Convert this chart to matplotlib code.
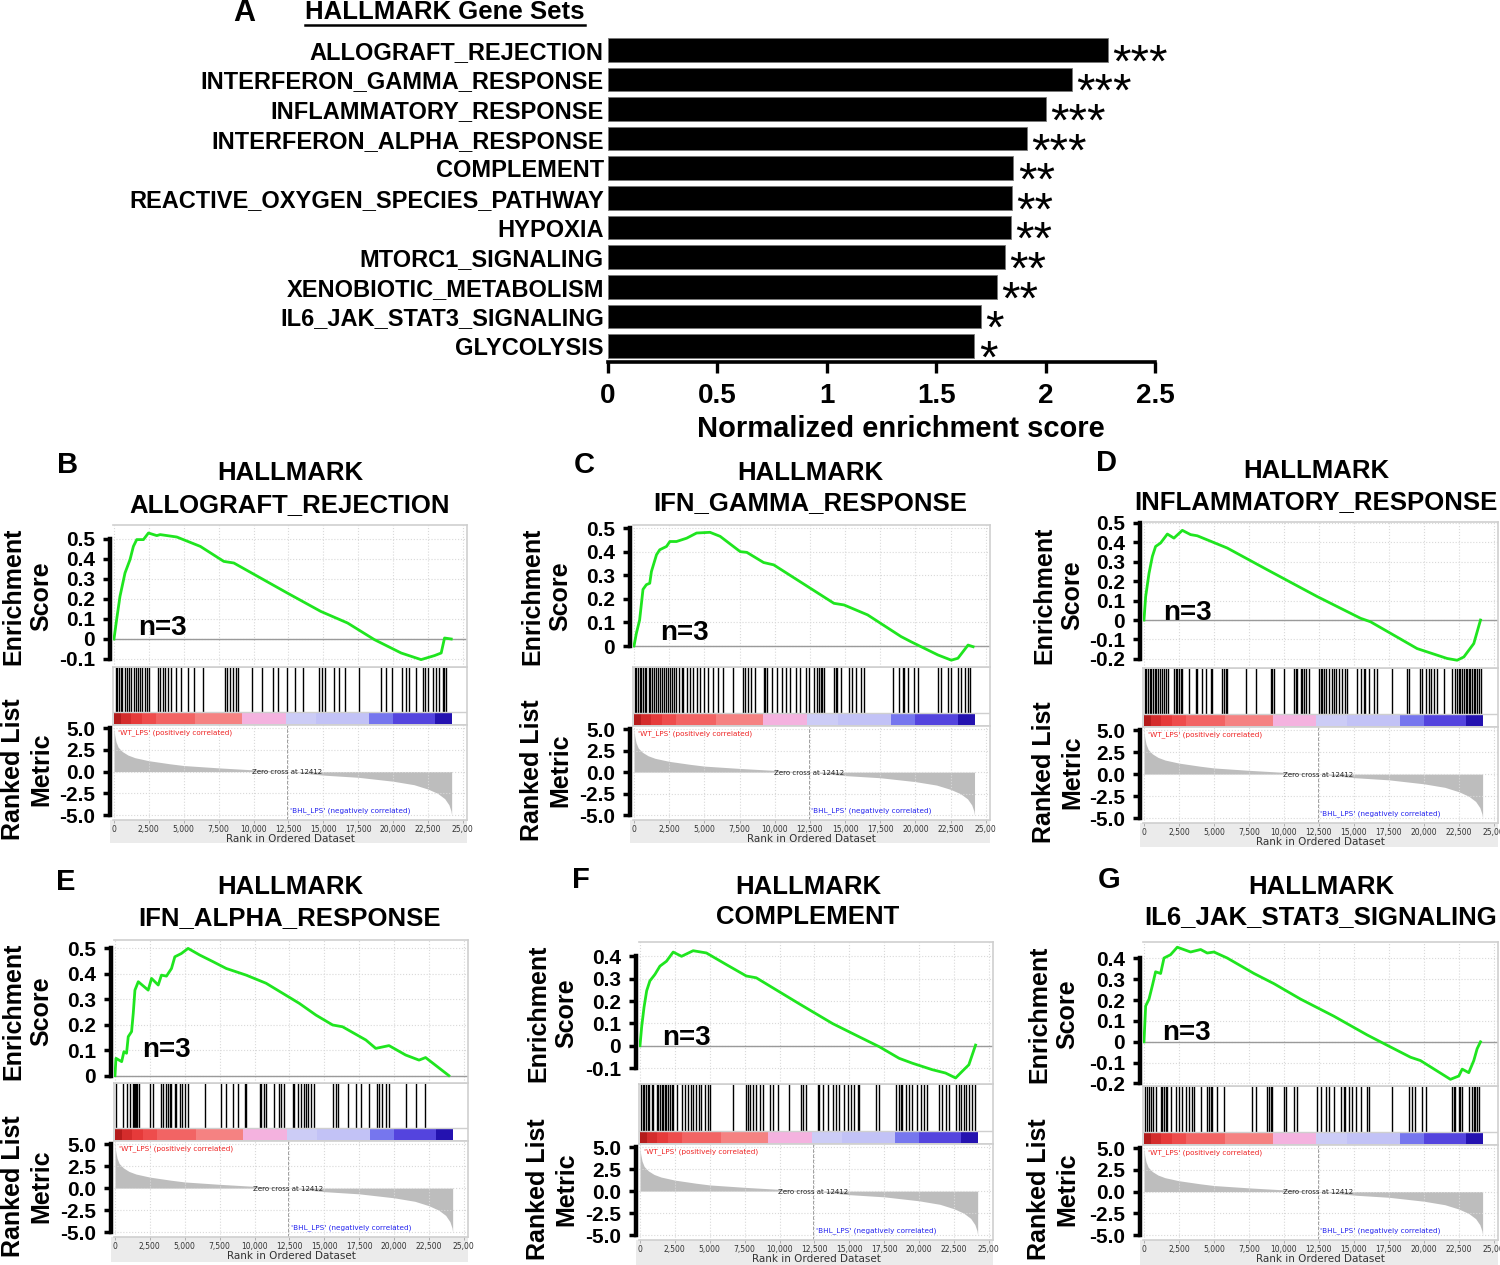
import matplotlib
matplotlib.use("Agg")
import matplotlib.pyplot as plt
from matplotlib.lines import Line2D

W, H = 1500, 1265
plt.rcParams["font.family"] = ["Liberation Sans", "DejaVu Sans"]

# ---- panel A: normalized enrichment scores ----
GENE_SETS = [
    "ALLOGRAFT_REJECTION", "INTERFERON_GAMMA_RESPONSE", "INFLAMMATORY_RESPONSE",
    "INTERFERON_ALPHA_RESPONSE", "COMPLEMENT", "REACTIVE_OXYGEN_SPECIES_PATHWAY",
    "HYPOXIA", "MTORC1_SIGNALING", "XENOBIOTIC_METABOLISM", "IL6_JAK_STAT3_SIGNALING",
    "GLYCOLYSIS",
]
NES = [2.285, 2.12, 2.00, 1.915, 1.853, 1.846, 1.843, 1.813, 1.778, 1.705, 1.675]
STARS = ["***", "***", "***", "***", "**", "**", "**", "**", "**", "*", "*"]

# ---- shared ranked list (rank in thousands) ----
METRIC_RANK = [0, 0.05, 0.15, 0.3, 0.6, 1.0, 1.5, 2.5, 4.0, 5.0, 7.5, 10.0, 12.412,
               15.0, 17.5, 20.0, 21.5, 22.5, 23.2, 23.7, 24.0, 24.15, 24.2]
METRIC_VALUE = [5.0, 4.2, 3.4, 2.8, 2.3, 1.9, 1.6, 1.25, 0.9, 0.7, 0.43, 0.2, 0.0,
                -0.4, -0.65, -1.1, -1.5, -2.0, -2.5, -3.1, -3.8, -4.5, -5.0]
BAND_EDGES = [0, 0.5, 1.2, 2.0, 3.0, 5.8, 9.2, 12.3, 14.5, 18.3, 20.0, 23.0, 24.2]
BAND_COLORS = ["#b41c1c", "#d42c2c", "#e63a3a", "#ee4c4c", "#f26464", "#f58282",
               "#f4b2df", "#ccccf6", "#c2c2f6", "#7676ee", "#5444de", "#2412b0"]
ZERO_CROSS = 12.412

# ---- running enrichment scores and hit positions (rank in thousands) ----
B_RANK = [0, 0.19, 0.43, 0.79, 1.15, 1.39, 1.63, 2.11, 2.47, 3.07, 3.31, 4.5, 6.19, 7.87,
          8.59, 12.42, 14.82, 16.74, 18.66, 20.58, 22.01, 22.97, 23.45, 23.69, 24.17]
B_ES = [0, 0.097, 0.213, 0.33, 0.397, 0.463, 0.497, 0.497, 0.53, 0.517, 0.522, 0.51, 0.463,
        0.388, 0.38, 0.23, 0.138, 0.08, -0.003, -0.07, -0.103, -0.083, -0.07, 0.005, 0.0]
B_HITS = [0.12, 0.24, 0.36, 0.48, 0.6, 0.77, 0.91, 1.08, 1.25, 1.44, 1.56, 1.73, 1.88, 2.04,
          2.21, 2.36, 2.52, 3.12, 3.32, 3.49, 3.65, 3.85, 4.09, 4.45, 4.81, 5.34, 5.77, 6.37,
          7.98, 8.13, 8.29, 8.53, 8.77, 8.89, 9.9, 10.58, 11.42, 11.78, 12.38, 12.98, 13.58,
          14.66, 14.9, 15.14, 15.75, 16.11, 16.59, 17.55, 19.11, 19.47, 19.95, 20.67, 20.91,
          21.15, 21.63, 22.16, 22.31, 22.48, 22.84, 23.08, 23.32, 23.56, 23.68, 23.8]

C_RANK = [0, 0.17, 0.4, 0.64, 0.88, 1.12, 1.24, 1.6, 1.83, 2.31, 2.55, 3.02, 3.74, 4.45, 5.4,
          6.12, 7.55, 8.02, 9.21, 9.93, 14.21, 14.93, 16.6, 18.98, 19.69, 21.6, 22.55, 23.02,
          23.74, 24.1]
C_ES = [0, 0.054, 0.11, 0.24, 0.26, 0.266, 0.316, 0.387, 0.408, 0.422, 0.443, 0.443, 0.457,
        0.479, 0.482, 0.465, 0.40, 0.397, 0.354, 0.344, 0.181, 0.174, 0.132, 0.04, 0.018,
        -0.038, -0.06, -0.052, 0.004, -0.003]
C_HITS = [0.05, 0.17, 0.29, 0.4, 0.52, 0.64, 0.76, 0.88, 1.05, 1.17, 1.31, 1.43, 1.55, 1.71,
          1.83, 2.0, 2.12, 2.26, 2.43, 2.55, 2.71, 2.86, 3.02, 3.19, 3.38, 3.5, 3.74, 3.98,
          4.21, 4.45, 4.69, 4.98, 5.29, 5.64, 6.0, 6.36, 7.07, 7.74, 7.9, 8.07, 8.31, 8.62,
          9.21, 9.33, 9.45, 9.81, 10.17, 10.52, 10.83, 11.12, 11.48, 11.83, 12.19, 12.43,
          12.79, 13.02, 13.14, 13.26, 13.38, 13.5, 14.21, 14.33, 14.45, 14.69, 15.29, 15.52,
          15.76, 16.12, 16.36, 18.38, 18.86, 19.1, 19.21, 19.45, 19.93, 20.17, 21.6, 21.83,
          22.31, 22.55, 23.02, 23.26, 23.5, 23.74, 23.86]

D_RANK = [0, 0.12, 0.36, 0.6, 0.83, 1.19, 1.67, 2.14, 2.74, 3.33, 3.81, 5.95, 8.81, 12.38,
          15.48, 16.19, 19.52, 21.67, 22.38, 22.86, 23.57, 24.05]
D_ES = [0, 0.121, 0.241, 0.328, 0.379, 0.397, 0.443, 0.422, 0.462, 0.44, 0.434, 0.371, 0.259,
        0.121, 0.009, -0.009, -0.147, -0.198, -0.207, -0.19, -0.121, 0.0]
D_HITS = [0.05, 0.17, 0.29, 0.4, 0.52, 0.64, 0.76, 0.88, 1.0, 1.14, 1.26, 1.43, 1.6, 1.74,
          2.14, 2.26, 2.38, 2.5, 2.62, 2.74, 3.21, 3.69, 3.81, 4.17, 4.4, 4.76, 4.88, 5.6,
          5.71, 5.83, 5.95, 7.26, 7.98, 9.05, 9.17, 9.29, 10.0, 10.71, 10.83, 10.95, 11.19,
          11.31, 11.43, 11.55, 11.79, 12.5, 12.62, 12.74, 12.86, 12.98, 13.21, 13.45, 13.57,
          13.69, 13.93, 14.17, 14.4, 14.52, 15.24, 15.48, 15.71, 15.83, 16.07, 16.43, 16.67,
          17.74, 18.81, 18.93, 19.76, 19.88, 20.12, 20.36, 20.48, 20.71, 20.95, 21.43, 22.02,
          22.26, 22.38, 22.5, 22.62, 22.74, 22.86, 22.98, 23.1, 23.21, 23.33, 23.45, 23.57,
          23.69, 23.81, 23.93, 24.05]

E_RANK = [0, 0.07, 0.48, 0.64, 0.83, 0.95, 1.19, 1.31, 1.43, 1.67, 2.38, 2.62, 3.1, 3.33,
          3.69, 4.05, 4.29, 4.76, 5.24, 6.07, 7.02, 7.98, 9.4, 10.83, 13.21, 14.4, 15.6,
          16.31, 17.98, 18.69, 19.64, 20.83, 21.79, 22.26, 23.93]
E_ES = [0, 0.068, 0.055, 0.094, 0.088, 0.153, 0.173, 0.245, 0.336, 0.369, 0.336, 0.382,
        0.356, 0.395, 0.391, 0.421, 0.467, 0.48, 0.5, 0.474, 0.448, 0.421, 0.395, 0.363,
        0.284, 0.238, 0.199, 0.192, 0.14, 0.107, 0.118, 0.081, 0.061, 0.071, 0.0]
E_HITS = [0.07, 0.6, 0.83, 1.07, 1.26, 1.36, 1.43, 1.5, 1.6, 1.74, 2.5, 2.69, 3.33, 3.45,
          3.69, 3.81, 3.93, 4.05, 4.29, 4.4, 4.64, 4.83, 5.0, 5.24, 6.43, 7.62, 7.98, 8.45,
          8.81, 9.29, 9.4, 10.36, 10.48, 10.71, 10.83, 11.43, 11.79, 11.9, 12.14, 12.74,
          12.86, 13.1, 13.33, 13.57, 13.69, 13.81, 14.05, 14.29, 15.6, 15.83, 15.95, 16.67,
          17.26, 17.62, 18.21, 18.81, 18.93, 19.17, 19.4, 19.64, 20.83, 21.55, 22.21]

F_RANK = [0, 0.12, 0.29, 0.48, 0.71, 1.07, 1.43, 1.9, 2.38, 2.98, 3.81, 4.76, 6.19, 7.62,
          8.33, 11.43, 13.81, 15.71, 17.14, 18.57, 19.52, 20.95, 21.9, 22.62, 23.21, 23.57,
          24.05]
F_ES = [0, 0.084, 0.172, 0.246, 0.29, 0.319, 0.356, 0.378, 0.419, 0.4, 0.425, 0.415, 0.363,
        0.312, 0.304, 0.187, 0.099, 0.04, -0.004, -0.056, -0.078, -0.107, -0.122, -0.144,
        -0.107, -0.085, 0.003]
F_HITS = [0.05, 0.19, 0.31, 0.43, 0.55, 0.67, 0.83, 0.95, 1.19, 1.31, 1.43, 1.55, 1.67, 1.79,
          1.9, 2.02, 2.14, 2.26, 2.38, 2.62, 2.98, 3.21, 3.45, 3.69, 3.81, 4.05, 4.24, 4.4,
          4.64, 4.88, 5.05, 6.67, 7.62, 7.74, 7.9, 8.1, 8.33, 8.57, 8.81, 9.29, 9.52, 9.88,
          10.71, 11.55, 11.67, 11.9, 12.74, 12.86, 13.1, 13.45, 13.81, 14.05, 14.29, 14.64,
          14.88, 15.12, 15.36, 15.6, 15.71, 16.9, 17.14, 18.33, 18.57, 18.69, 18.81, 19.05,
          19.29, 19.52, 19.88, 20.12, 20.36, 20.6, 21.43, 21.67, 21.9, 22.14, 22.62, 22.86,
          22.98, 23.21, 23.33, 23.57, 23.81, 24.0]

G_RANK = [0, 0.12, 0.36, 0.6, 0.83, 1.19, 1.43, 1.9, 2.38, 3.33, 4.05, 4.52, 5.0, 5.95,
          7.86, 9.29, 11.19, 13.57, 15.95, 16.9, 19.05, 19.76, 21.9, 22.5, 22.74, 23.21,
          23.57, 23.81, 24.05]
G_ES = [0, 0.172, 0.205, 0.27, 0.336, 0.328, 0.402, 0.418, 0.454, 0.431, 0.443, 0.426,
        0.431, 0.402, 0.328, 0.279, 0.205, 0.123, 0.033, 0.0, -0.074, -0.09, -0.18, -0.164,
        -0.131, -0.148, -0.09, -0.033, 0.0]
G_HITS = [0.07, 0.24, 0.36, 0.52, 0.67, 0.83, 1.19, 1.31, 1.43, 1.55, 1.67, 1.9, 2.26, 2.5,
          2.74, 2.98, 3.21, 3.45, 3.57, 4.05, 4.52, 4.64, 4.76, 4.88, 5.24, 5.71, 7.74, 7.98,
          8.81, 8.93, 9.05, 9.17, 10.0, 10.12, 10.71, 10.95, 12.38, 12.62, 12.98, 13.21,
          13.57, 14.05, 14.29, 14.4, 14.64, 14.88, 15.12, 15.48, 15.95, 16.07, 17.74, 18.93,
          19.17, 19.4, 19.88, 20.12, 22.02, 22.14, 22.26, 22.5, 22.62, 22.74, 23.21, 23.45,
          23.57, 23.69, 23.81, 23.93]

ES_TICKS_B = [-0.1, 0, 0.1, 0.2, 0.3, 0.4, 0.5]
ES_TICKS_C = [0, 0.1, 0.2, 0.3, 0.4, 0.5]
ES_TICKS_D = [-0.2, -0.1, 0, 0.1, 0.2, 0.3, 0.4, 0.5]
ES_TICKS_F = [-0.1, 0, 0.1, 0.2, 0.3, 0.4]
ES_TICKS_G = [-0.2, -0.1, 0, 0.1, 0.2, 0.3, 0.4]

# layout of each GSEA panel, in pixels of the 1500x1265 figure
PANELS = [
    dict(letter="B", title="ALLOGRAFT_REJECTION", rank=B_RANK, es=B_ES, hits=B_HITS,
         ticks=ES_TICKS_B, ylim=(-0.14, 0.57), x0=113, x1=467,
         ys=(525, 667, 725, 820, 843), letter_xy=(57, 465), title_xy=(290, 473, 505),
         ylab_x=27, n3=(138, 628)),
    dict(letter="C", title="IFN_GAMMA_RESPONSE", rank=C_RANK, es=C_ES, hits=C_HITS,
         ticks=ES_TICKS_C, ylim=(-0.089, 0.513), x0=633, x1=990,
         ys=(525, 667, 726, 820, 843), letter_xy=(574, 465), title_xy=(810, 473, 503),
         ylab_x=546, n3=(660, 633)),
    dict(letter="D", title="INFLAMMATORY_RESPONSE", rank=D_RANK, es=D_ES, hits=D_HITS,
         ticks=ES_TICKS_D, ylim=(-0.247, 0.505), x0=1143, x1=1498,
         ys=(522, 668, 727, 823, 847), letter_xy=(1096, 463), title_xy=(1316, 471, 502),
         ylab_x=1058, n3=(1163, 613)),
    dict(letter="E", title="IFN_ALPHA_RESPONSE", rank=E_RANK, es=E_ES, hits=E_HITS,
         ticks=ES_TICKS_C, ylim=(-0.029, 0.533), x0=114, x1=468,
         ys=(940, 1083, 1141, 1237, 1262), letter_xy=(56, 882), title_xy=(290, 887, 918),
         ylab_x=27, n3=(142, 1050)),
    dict(letter="F", title="COMPLEMENT", rank=F_RANK, es=F_ES, hits=F_HITS,
         ticks=ES_TICKS_F, ylim=(-0.171, 0.464), x0=639, x1=993,
         ys=(942, 1084, 1144, 1240, 1265), letter_xy=(572, 880), title_xy=(808, 887, 917),
         ylab_x=552, n3=(662, 1038)),
    dict(letter="G", title="IL6_JAK_STAT3_SIGNALING", rank=G_RANK, es=G_ES, hits=G_HITS,
         ticks=ES_TICKS_G, ylim=(-0.212, 0.479), x0=1143, x1=1498,
         ys=(942, 1086, 1145, 1240, 1265), letter_xy=(1098, 880), title_xy=(1321, 887, 917),
         ylab_x=1053, n3=(1162, 1033)),
]

GREEN = "#1fe51f"
FRAME = "#cfcfcf"
GRID = "#d9d9d9"
XMAX = 25.3
XTICKS = [0, 2.5, 5, 7.5, 10, 12.5, 15, 17.5, 20, 22.5, 25]
XTICKLABELS = ["0", "2,500", "5,000", "7,500", "10,000", "12,500", "15,000", "17,500",
               "20,000", "22,500", "25,00"]


def rect(x0, y0, x1, y1):
    return [x0 / W, 1 - y1 / H, (x1 - x0) / W, (y1 - y0) / H]


def ftext(fig, x, y, s, **kw):
    fig.text(x / W, 1 - y / H, s, **kw)


def bold_spine(ax, lo, hi):
    for side in ["top", "right", "bottom"]:
        ax.spines[side].set_color(FRAME)
        ax.spines[side].set_linewidth(1.2)
    ax.spines["left"].set_linewidth(3.2)
    ax.spines["left"].set_color("black")
    ax.spines["left"].set_bounds(lo, hi)
    ax.spines["left"].set_position(("outward", 2))
    ax.tick_params(axis="y", length=5, width=2.5, labelsize=15, pad=6)
    for lab in ax.get_yticklabels():
        lab.set_fontweight("bold")


def draw_gsea(fig, p):
    x0, x1 = p["x0"], p["x1"]
    es_top, es_bot, mid_bot, met_bot, strip_bot = p["ys"]

    strip = fig.add_axes(rect(x0 - 3, met_bot, x1, strip_bot), zorder=0)
    strip.set_facecolor("#ebebeb")
    strip.set_xticks([])
    strip.set_yticks([])
    for s in strip.spines.values():
        s.set_visible(False)

    # running enrichment score
    ax = fig.add_axes(rect(x0, es_top, x1, es_bot), zorder=2)
    ax.plot(p["rank"], p["es"], color=GREEN, lw=2.0, zorder=3)
    ax.axhline(0, color="#9a9a9a", lw=1.0, zorder=2)
    ax.set_xlim(-0.07, XMAX)
    ax.set_ylim(*p["ylim"])
    ax.set_xticks(XTICKS)
    ax.set_yticks(p["ticks"])
    ax.set_yticklabels([("%g" % t) for t in p["ticks"]])
    ax.grid(True, color=GRID, ls=":", lw=0.8)
    ax.tick_params(axis="x", length=0, labelbottom=False)
    bold_spine(ax, p["ticks"][0], p["ticks"][-1])

    # hit lines and colour band
    mid = fig.add_axes(rect(x0, es_bot, x1, mid_bot), zorder=1)
    mid.vlines(p["hits"], 0.22, 1.0, color="black", lw=1.0)
    for i, c in enumerate(BAND_COLORS):
        mid.broken_barh([(BAND_EDGES[i], BAND_EDGES[i + 1] - BAND_EDGES[i])], (0.01, 0.2),
                        facecolors=c)
    mid.axhline(0.22, color=FRAME, lw=1.0)
    mid.set_xlim(-0.07, XMAX)
    mid.set_ylim(0, 1)
    mid.set_xticks([])
    mid.set_yticks([])
    for s in mid.spines.values():
        s.set_color(FRAME)
        s.set_linewidth(1.2)

    # ranked list metric
    met = fig.add_axes(rect(x0, mid_bot, x1, met_bot), zorder=2)
    met.fill_between(METRIC_RANK, METRIC_VALUE, 0, color="#bdbdbd", lw=0)
    met.axvline(ZERO_CROSS, color="#a0a0a0", ls="--", lw=0.7)
    met.set_xlim(-0.07, XMAX)
    met.set_ylim(-5.55, 5.35)
    met.set_yticks([-5, -2.5, 0, 2.5, 5])
    met.set_yticklabels(["-5.0", "-2.5", "0.0", "2.5", "5.0"])
    met.set_xticks(XTICKS)
    met.set_xticklabels(XTICKLABELS, fontsize=5.5, color="#333333", family="DejaVu Sans")
    met.tick_params(axis="x", length=2, width=0.5, color="#999999", pad=1.5)
    met.grid(True, color=GRID, ls=":", lw=0.8)
    bold_spine(met, -5, 5)
    met.set_xlabel("Rank in Ordered Dataset", fontsize=7.5, color="#333333",
                   family="DejaVu Sans", labelpad=0)
    met.text(0.3, 4.9, "'WT_LPS' (positively correlated)", fontsize=5.2, color="#ee2222",
             va="top", family="DejaVu Sans")
    met.text(ZERO_CROSS + 0.2, -4.9, "'BHL_LPS' (negatively correlated)", fontsize=5.2,
             color="#2222ee", va="bottom", family="DejaVu Sans")
    met.text(ZERO_CROSS, -0.1, "Zero cross at 12412", fontsize=5.0, color="#222222",
             ha="center", va="center", family="DejaVu Sans")

    # annotations
    lx, ly = p["letter_xy"]
    ftext(fig, lx, ly, p["letter"], fontsize=21, fontweight="bold", va="center")
    tx, ty1, ty2 = p["title_xy"]
    ftext(fig, tx, ty1, "HALLMARK", fontsize=18.5, fontweight="bold", ha="center", va="center")
    ftext(fig, tx, ty2, p["title"], fontsize=18.5, fontweight="bold", ha="center", va="center")
    ftext(fig, p["ylab_x"], (es_top + es_bot) / 2, "Enrichment\nScore", fontsize=18,
          fontweight="bold", rotation=90, ha="center", va="center", multialignment="center")
    ftext(fig, p["ylab_x"], (mid_bot + met_bot) / 2 - 3, "Ranked List\nMetric", fontsize=18,
          fontweight="bold", rotation=90, ha="center", va="center", multialignment="center")
    nx, ny = p["n3"]
    ftext(fig, nx, ny, "n=3", fontsize=20, fontweight="bold", va="center")


fig = plt.figure(figsize=(W / 100, H / 100), dpi=100)

# ---- panel A ----
axA = fig.add_axes(rect(608, 32, 1155, 362))
ypos = list(range(len(GENE_SETS)))
axA.barh(ypos, NES, height=0.8, color="black", edgecolor="#777777", lw=0.6)
for y, v, s in zip(ypos, NES, STARS):
    axA.text(v + 0.02, y + 0.9, s, fontsize=34, va="baseline", ha="left")
axA.set_ylim(10.54, -0.6)
axA.set_xlim(0, 2.5)
axA.set_yticks(ypos)
axA.set_yticklabels(GENE_SETS, fontsize=17, fontweight="bold")
axA.tick_params(axis="y", length=0, pad=3)
axA.set_xticks([0, 0.5, 1, 1.5, 2, 2.5])
axA.set_xticklabels(["0", "0.5", "1", "1.5", "2", "2.5"], fontsize=20, fontweight="bold")
axA.tick_params(axis="x", length=8, width=2.4, pad=7)
for side in ["top", "right", "left"]:
    axA.spines[side].set_visible(False)
axA.spines["bottom"].set_linewidth(2.6)
axA.set_xlabel("Normalized enrichment score", fontsize=21, fontweight="bold", labelpad=6)
axA.xaxis.set_label_coords(0.535, -0.16)

ftext(fig, 233, 13, "A", fontsize=22, fontweight="bold", va="center")
ftext(fig, 445, 12, "HALLMARK Gene Sets", fontsize=18.5, fontweight="bold", ha="center",
      va="center")
fig.add_artist(Line2D([305 / W, 585 / W], [1 - 25 / H, 1 - 25 / H], color="black", lw=1.8))

for panel in PANELS:
    draw_gsea(fig, panel)

fig.savefig("out.png", dpi=100)
